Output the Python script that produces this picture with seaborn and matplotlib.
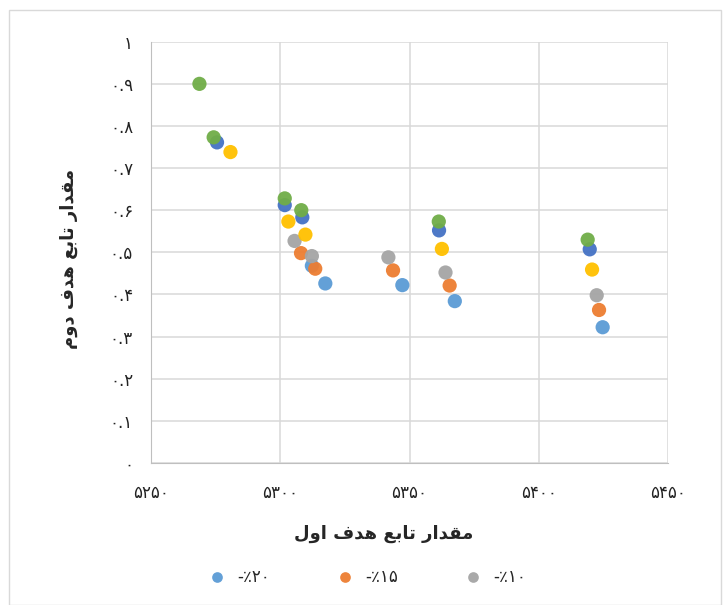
import pandas as pd
import matplotlib
matplotlib.use("Agg")
import matplotlib.pyplot as plt
import seaborn as sns

# series (first objective, second objective)
s20_x = [5312.2, 5317.4, 5347.2, 5367.5, 5424.7]
s20_y = [0.468, 0.426, 0.422, 0.384, 0.322]
s15_x = [5308.0, 5313.5, 5343.6, 5365.5, 5423.3]
s15_y = [0.498, 0.461, 0.457, 0.421, 0.363]
s10_x = [5305.5, 5312.2, 5341.8, 5363.9, 5422.4]
s10_y = [0.527, 0.491, 0.488, 0.452, 0.398]
s05_x = [5280.7, 5303.1, 5309.7, 5362.5, 5420.6]
s05_y = [0.738, 0.573, 0.542, 0.508, 0.459]
s00_x = [5275.5, 5301.7, 5308.5, 5361.4, 5419.7]
s00_y = [0.761, 0.612, 0.583, 0.552, 0.507]
p05_x = [5268.7, 5274.2, 5301.7, 5308.1, 5361.3, 5418.9]
p05_y = [0.900, 0.773, 0.628, 0.600, 0.573, 0.530]

names = ["-٪۲۰", "-٪۱۵", "-٪۱۰", "-٪۵", "٪۰", "+٪۵"]
colors = ["#5B9BD5", "#ED7D31", "#A5A5A5", "#FFC000", "#4472C4", "#70AD47"]

x_ticks = [5250, 5300, 5350, 5400, 5450]
y_ticks = [0, 0.1, 0.2, 0.3, 0.4, 0.5, 0.6, 0.7, 0.8, 0.9, 1.0]

# --- minimal arabic shaping (matplotlib has no shaping / bidi) ---
FORMS = {
    "ا": ("\uFE8D", "\uFE8E"),
    "د": ("\uFEA9", "\uFEAA"),
    "ر": ("\uFEAD", "\uFEAE"),
    "و": ("\uFEED", "\uFEEE"),
    "ب": ("\uFE8F", "\uFE90", "\uFE91", "\uFE92"),
    "ت": ("\uFE95", "\uFE96", "\uFE97", "\uFE98"),
    "ع": ("\uFEC9", "\uFECA", "\uFECB", "\uFECC"),
    "ف": ("\uFED1", "\uFED2", "\uFED3", "\uFED4"),
    "ق": ("\uFED5", "\uFED6", "\uFED7", "\uFED8"),
    "ل": ("\uFEDD", "\uFEDE", "\uFEDF", "\uFEE0"),
    "م": ("\uFEE1", "\uFEE2", "\uFEE3", "\uFEE4"),
    "ه": ("\uFEE9", "\uFEEA", "\uFEEB", "\uFEEC"),
}


def shape(text):
    out = []
    for i, ch in enumerate(text):
        if ch not in FORMS:
            out.append(ch)
            continue
        prev = text[i - 1] if i > 0 else " "
        nxt = text[i + 1] if i + 1 < len(text) else " "
        join_prev = prev in FORMS and len(FORMS[prev]) == 4
        join_next = len(FORMS[ch]) == 4 and nxt in FORMS
        f = FORMS[ch]
        if join_prev and join_next:
            out.append(f[3])
        elif join_prev:
            out.append(f[1])
        elif join_next:
            out.append(f[2])
        else:
            out.append(f[0])
    return "".join(out)[::-1]


def fa_num(s):
    return s.translate(str.maketrans("0123456789", "۰۱۲۳۴۵۶۷۸۹"))


rows = []
for n, xs, ys in zip(names,
                     [s20_x, s15_x, s10_x, s05_x, s00_x, p05_x],
                     [s20_y, s15_y, s10_y, s05_y, s00_y, p05_y]):
    for a, b in zip(xs, ys):
        rows.append({"x": a, "y": b, "series": n})
df = pd.DataFrame(rows)

sns.set_style("white")
plt.rcParams["font.family"] = ["DejaVu Sans"]

fig = plt.figure(figsize=(7.23, 6.05), dpi=100)
ax = fig.add_axes([0.209, 0.235, 0.715, 0.696])

sns.scatterplot(data=df, x="x", y="y", hue="series", hue_order=names,
                palette=colors, s=105, linewidth=0, alpha=0.95, ax=ax,
                legend=True)

ax.set_xlim(5250, 5450)
ax.set_ylim(0, 1)
ax.set_xticks(x_ticks)
ax.set_yticks(y_ticks)
ax.set_xticklabels([fa_num(str(v)) for v in x_ticks])
ax.set_yticklabels([fa_num("0" if v == 0 else ("1" if v == 1 else f"{v:.1f}"))
                    for v in y_ticks])
ax.tick_params(axis="x", length=0, pad=15, labelsize=12, colors="#222222")
ax.tick_params(axis="y", length=0, pad=13, labelsize=12, colors="#222222")
ax.grid(True, color="#D9D9D9", linewidth=1.1)
ax.set_axisbelow(True)
for side in ["top", "right"]:
    ax.spines[side].set_visible(False)
for side in ["left", "bottom"]:
    ax.spines[side].set_color("#BFBFBF")
ax.set_xlabel("")
ax.set_ylabel("")

fig.text(0.531, 0.118, shape("مقدار تابع هدف اول"), ha="center", va="center",
         fontsize=13, fontweight="bold")
fig.text(0.095, 0.572, shape("مقدار تابع هدف دوم"), ha="center", va="center",
         rotation=90, fontsize=13, fontweight="bold")

handles, labels = ax.get_legend_handles_labels()
ax.legend(handles[:3], labels[:3], loc="center", bbox_to_anchor=(0.41, -0.272),
          ncol=3, frameon=False, fontsize=12, columnspacing=3.5,
          handletextpad=0.2, markerscale=0.75)

fig.patches.append(plt.Rectangle((0.012, 0.0), 0.985, 0.983, fill=False,
                                 edgecolor="#D9D9D9", linewidth=1,
                                 transform=fig.transFigure))

fig.savefig("out.png", dpi=100)
